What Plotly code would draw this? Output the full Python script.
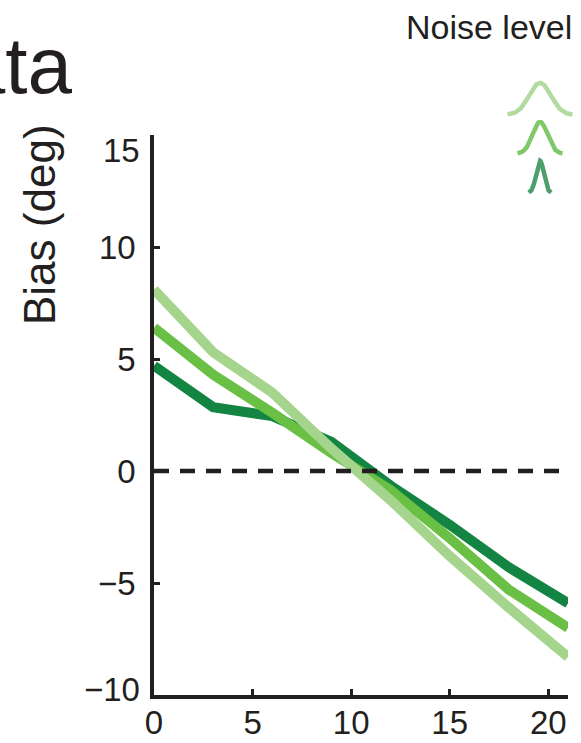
import numpy as np
import plotly.graph_objects as go

# Bias curves for three noise levels (low noise = dark, high noise = light)
stim = [0, 3, 6, 9, 12, 15, 18, 21]
bias_high = [8.1, 5.3, 3.5, 1.0, -1.3, -3.8, -6.1, -8.3]
bias_mid = [6.4, 4.3, 2.6, 0.8, -0.85, -3.0, -5.3, -7.0]
bias_low = [4.7, 2.85, 2.45, 1.3, -0.65, -2.4, -4.3, -5.9]

x_ticks = [0, 5, 10, 15, 20]
y_ticks = [-10, -5, 0, 5, 10, 15]
y_tick_text = ["\u221210", "\u22125", "0", "5", "10", "15"]

line_colors = {"low": "#138441", "mid": "#6abf45", "high": "#a5d58c"}
glyph_colors = ["#b3dba0", "#80c96a", "#4f9f6c"]   # high, mid, low
glyph_sigma = [1.08, 0.75, 0.38]                   # widths of the noise glyphs

W, H = 581, 743
ML, MB = 154, 48
PW, PH = W - ML, H - MB          # plot area spans the full width/top


def fx(px):
    return (px - ML) / PW


def fy(py):
    return (PH - py) / PH


ink = "#231f20"
font_family = "Liberation Sans, Arial, Helvetica, sans-serif"
tick_font = dict(family=font_family, size=33, color=ink)

fig = go.Figure()

for vals, key in [(bias_low, "low"), (bias_mid, "mid"), (bias_high, "high")]:
    fig.add_trace(go.Scatter(
        x=stim, y=vals, mode="lines",
        line=dict(color=line_colors[key], width=10),
        xaxis="x", yaxis="y", showlegend=False, hoverinfo="skip",
    ))

# noise-level glyphs: gaussians of decreasing width, stacked
for i, (sig, col) in enumerate(zip(glyph_sigma, glyph_colors)):
    gx = np.linspace(-3 * sig, 3 * sig, 80)
    base = (2 - i) * 1.22
    gy = base + np.exp(-gx ** 2 / (2 * sig ** 2))
    fig.add_trace(go.Scatter(
        x=gx, y=gy, mode="lines",
        line=dict(color=col, width=4.5),
        xaxis="x2", yaxis="y2", showlegend=False, hoverinfo="skip",
    ))

fig.add_shape(type="line", xref="x", yref="y", x0=0, x1=21, y0=0, y1=0,
              line=dict(color=ink, width=4.5, dash="15px,11px"))

axis_common = dict(
    showgrid=False, zeroline=False, showline=True, linecolor=ink, linewidth=3.5,
    ticks="inside", ticklen=6, tickwidth=3, tickcolor=ink, automargin=False,
    tickfont=tick_font,
)


# the end labels are nudged inward from the ends of the axis
def end_label(idx, shift):
    return dict(text=y_tick_text[idx], xref="paper", yref="y", x=0,
                y=y_ticks[idx], xanchor="right", yanchor="middle",
                xshift=-12, yshift=shift, showarrow=False, font=tick_font)


inner_text = [""] + y_tick_text[1:-1] + [""]

fig.update_layout(
    width=W, height=H,
    margin=dict(l=ML, r=0, t=0, b=MB, autoexpand=False),
    paper_bgcolor="white", plot_bgcolor="white",
    xaxis=dict(domain=[0, fx(568)], range=[0, 21], tickvals=x_ticks,
               anchor="y", ticklabelstandoff=-4, **axis_common),
    yaxis=dict(domain=[0, fy(135)], range=[-10, 15], tickvals=y_ticks,
               ticktext=inner_text,
               anchor="x", ticklabelstandoff=8, **axis_common),
    xaxis2=dict(domain=[fx(505), fx(575)], range=[-3.5, 3.5], visible=False,
                anchor="y2", automargin=False),
    yaxis2=dict(domain=[fy(196), fy(78)], range=[-0.1, 3.59], visible=False,
                anchor="x2", automargin=False),
    annotations=[
        end_label(-1, -15),
        end_label(0, 6),
        dict(text="Data", xref="paper", yref="paper", x=fx(74), y=fy(66),
             xanchor="right", yanchor="middle", showarrow=False,
             font=dict(family=font_family, size=80, color=ink)),
        dict(text="Bias (deg)", xref="paper", yref="paper", x=fx(40), y=fy(224),
             xanchor="center", yanchor="middle", textangle=-90, showarrow=False,
             font=dict(family=font_family, size=44, color=ink)),
        dict(text="Noise level", xref="paper", yref="paper", x=fx(574), y=fy(27),
             xanchor="right", yanchor="middle", showarrow=False,
             font=dict(family=font_family, size=34, color=ink)),
    ],
)

fig.write_html("out.html")
